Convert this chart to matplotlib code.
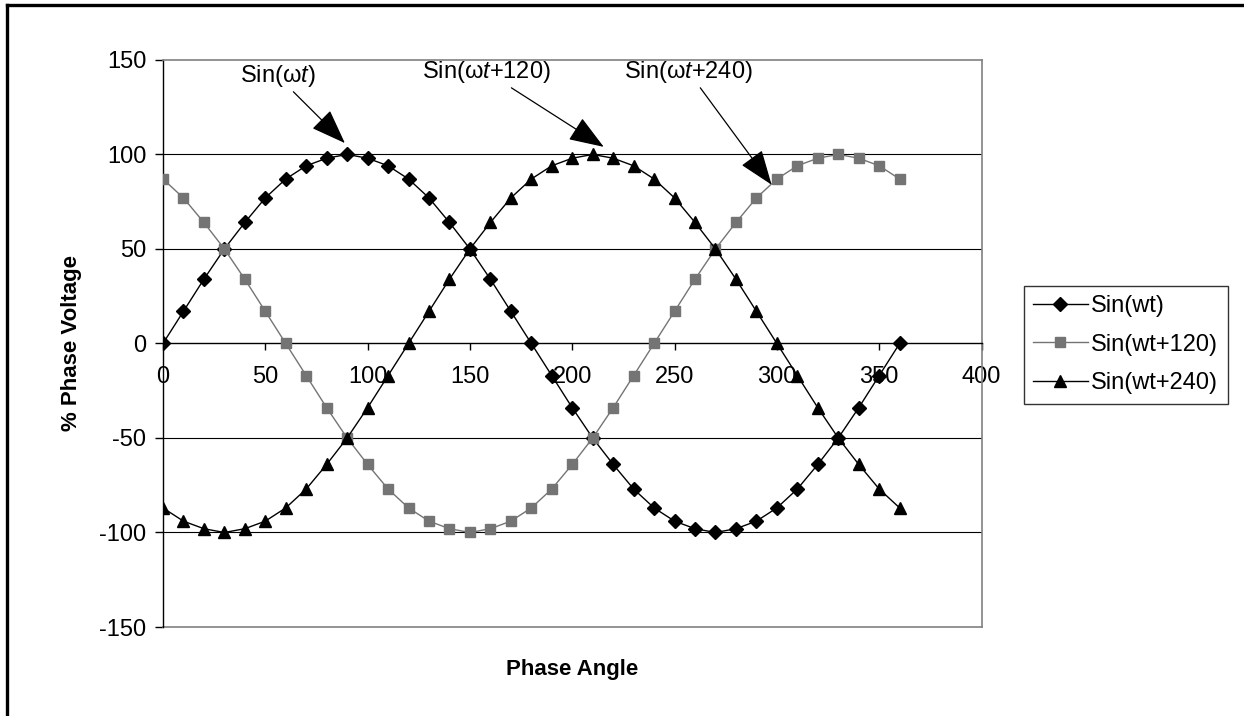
import matplotlib
matplotlib.use("Agg")
import matplotlib.pyplot as plt
from matplotlib.lines import Line2D

plt.rcParams['font.family'] = ['Liberation Sans', 'DejaVu Sans']
plt.rcParams['mathtext.fontset'] = 'custom'
plt.rcParams['mathtext.rm'] = 'Liberation Sans'
plt.rcParams['mathtext.it'] = 'Liberation Sans:italic'
plt.rcParams['axes.unicode_minus'] = False

# Datos (angulo de fase en grados, % de tension)
angle = [0, 10, 20, 30, 40, 50, 60, 70, 80, 90, 100, 110, 120, 130, 140, 150, 160, 170, 180,
         190, 200, 210, 220, 230, 240, 250, 260, 270, 280, 290, 300, 310, 320, 330, 340, 350, 360]
sin_wt = [0, 17, 34, 50, 64, 77, 87, 94, 98, 100, 98, 94, 87, 77, 64, 50, 34, 17, 0,
          -17, -34, -50, -64, -77, -87, -94, -98, -100, -98, -94, -87, -77, -64, -50, -34, -17, 0]
sin_wt120 = [87, 77, 64, 50, 34, 17, 0, -17, -34, -50, -64, -77, -87, -94, -98, -100, -98, -94, -87,
             -77, -64, -50, -34, -17, 0, 17, 34, 50, 64, 77, 87, 94, 98, 100, 98, 94, 87]
sin_wt240 = [-87, -94, -98, -100, -98, -94, -87, -77, -64, -50, -34, -17, 0, 17, 34, 50, 64, 77, 87,
             94, 98, 100, 98, 94, 87, 77, 64, 50, 34, 17, 0, -17, -34, -50, -64, -77, -87]
labels = ['Sin(wt)', 'Sin(wt+120)', 'Sin(wt+240)']
x_ticks = [0, 50, 100, 150, 200, 250, 300, 350, 400]
y_ticks = [-150, -100, -50, 0, 50, 100, 150]

fig = plt.figure(figsize=(12.44, 7.16), dpi=100)
ax = fig.add_axes([0.131, 0.1243, 0.658, 0.792])

# Lineas de cuadricula horizontales
for y in y_ticks:
    if y in (-150, 0, 150):
        continue
    ax.axhline(y, color='black', linewidth=0.8, zorder=1)

ax.plot(angle, sin_wt, color='black', marker='D', markersize=7, linewidth=1.0,
        label=labels[0], zorder=3)
ax.plot(angle, sin_wt120, color='#747474', marker='s', markersize=7.5, linewidth=1.0,
        label=labels[1], zorder=3)
ax.plot(angle, sin_wt240, color='black', marker='^', markersize=8.5, linewidth=1.0,
        label=labels[2], zorder=3)

ax.set_xlim(0, 400)
ax.set_ylim(-150, 150)
ax.set_xticks(x_ticks)
ax.set_yticks(y_ticks)

# Marco gris del area de trazado
for s in ['top', 'right']:
    ax.spines[s].set_color('#808080')
    ax.spines[s].set_linewidth(1.2)
ax.spines['left'].set_color('black')
ax.spines['left'].set_linewidth(1.0)
ax.spines['bottom'].set_position(('data', 0))
ax.spines['bottom'].set_color('black')
ax.spines['bottom'].set_linewidth(1.0)
ax.add_line(Line2D([0, 1], [0, 0], transform=ax.transAxes, color='#808080', linewidth=1.2,
                   clip_on=False, zorder=2))

ax.tick_params(axis='x', direction='out', length=5, width=1, labelsize=17, pad=11)
ax.tick_params(axis='y', direction='out', length=6, width=1, labelsize=17, pad=6)

# Titulos de los ejes
fig.text(0.0575, 0.521, '% Phase Voltage', fontsize=16, fontweight='bold', rotation=90,
         ha='center', va='center')
fig.text(0.46, 0.065, 'Phase Angle', fontsize=16, fontweight='bold', ha='center', va='center')

# Anotaciones con flechas
arrow = dict(arrowstyle='-|>,head_length=1.3,head_width=0.48', color='black', linewidth=0.9,
             shrinkA=0, shrinkB=0)
ax.annotate(r'Sin(ω$\mathit{t}$)', xy=(88.9, 106), xytext=(56, 141.5), fontsize=17,
            ha='center', va='center', arrowprops=arrow)
ax.annotate(r'Sin(ω$\mathit{t}$+$\mathit{1}$20)', xy=(215.4, 104), xytext=(158.2, 143.6),
            fontsize=17, ha='center', va='center', arrowprops=arrow)
ax.annotate(r'Sin(ω$\mathit{t}$+240)', xy=(297.4, 84), xytext=(256.9, 143.6),
            fontsize=17, ha='center', va='center', arrowprops=arrow)

leg = fig.legend(loc='upper left', bbox_to_anchor=(0.823, 0.601), fontsize=17,
                 frameon=True, fancybox=False, handlelength=2.3, borderpad=0.4,
                 labelspacing=0.7, handletextpad=0.15, borderaxespad=0)
leg.get_frame().set_edgecolor('black')
leg.get_frame().set_linewidth(1.0)

# Borde exterior (solo arriba e izquierda visibles)
fig.add_artist(Line2D([0.0056, 1.0], [0.9935, 0.9935], transform=fig.transFigure,
                      color='black', linewidth=2.4))
fig.add_artist(Line2D([0.0056, 0.0056], [0.0, 0.9935], transform=fig.transFigure,
                      color='black', linewidth=2.4))

plt.savefig('out.png', dpi=100)
plt.close()
